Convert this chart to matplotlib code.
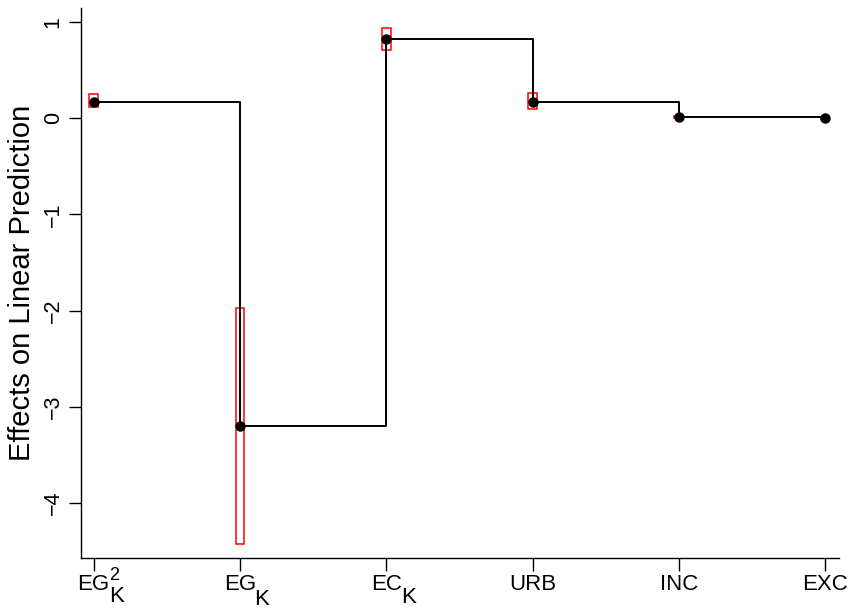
import matplotlib
matplotlib.use("Agg")
import matplotlib.pyplot as plt
from matplotlib.patches import Rectangle

plt.rcParams['font.family'] = ['Liberation Sans', 'DejaVu Sans']

main_labels = ['EG', 'EG', 'EC', 'URB', 'INC', 'EXC']
sup_labels = ['2', '', '', '', '', '']
sub_labels = ['K', 'K', 'K', '', '', '']
effects = [0.17, -3.20, 0.82, 0.17, 0.01, 0.0]
ci_low = [0.115, -4.43, 0.71, 0.10, 0.00, -0.005]
ci_high = [0.25, -1.97, 0.94, 0.26, 0.02, 0.005]

x = list(range(1, len(main_labels) + 1))

fig = plt.figure(figsize=(8.61, 6.09), dpi=100)
ax = fig.add_axes([80.5 / 861, (609 - 558) / 609, (839 - 80.5) / 861, (558 - 8) / 609])

bw = 0.06
for xi, lo, hi in zip(x, ci_low, ci_high):
    ax.add_patch(Rectangle((xi - bw / 2, lo), bw, hi - lo, fill=False,
                           edgecolor='#ff0000', linewidth=1.1, zorder=2))

ax.plot(x, effects, drawstyle='steps-post', color='black', linewidth=1.4, zorder=3)
ax.plot(x, effects, 'o', color='black', markersize=6.5, zorder=4)

ax.set_xlim(0.91, 6.095)
ax.set_ylim(-4.573, 1.146)

for s in ['top', 'right']:
    ax.spines[s].set_visible(False)
for s in ['left', 'bottom']:
    ax.spines[s].set_linewidth(1.0)

ax.set_xticks(x)
ax.set_xticklabels(main_labels, fontsize=16)
ax.set_yticks([-4, -3, -2, -1, 0, 1])
ax.set_yticklabels(['\u22124', '\u22123', '\u22122', '\u22121', '0', '1'], fontsize=15.5,
                   rotation=90, va='center')
ax.tick_params(axis='both', direction='out', length=9, width=1.0)
ax.tick_params(axis='x', pad=2.5)
ax.tick_params(axis='y', pad=3)
ax.set_ylabel('Effects on Linear Prediction', fontsize=21, labelpad=5)

# superscripts / subscripts of the tick labels (offsets in pixels from tick at axis line)
sup_off = (15.0, -22)
sub_offs = [(15.5, -43.5), (14.0, -47), (14.5, -45)]
for i, xi in enumerate(x):
    if sup_labels[i]:
        ax.annotate(sup_labels[i], xy=(xi, 0), xycoords=('data', 'axes fraction'),
                    xytext=sup_off, textcoords='offset pixels', fontsize=13,
                    ha='left', va='baseline', annotation_clip=False)
    if sub_labels[i]:
        ax.annotate(sub_labels[i], xy=(xi, 0), xycoords=('data', 'axes fraction'),
                    xytext=sub_offs[i], textcoords='offset pixels', fontsize=16,
                    ha='left', va='baseline', annotation_clip=False)

fig.savefig('out.png', dpi=100)
